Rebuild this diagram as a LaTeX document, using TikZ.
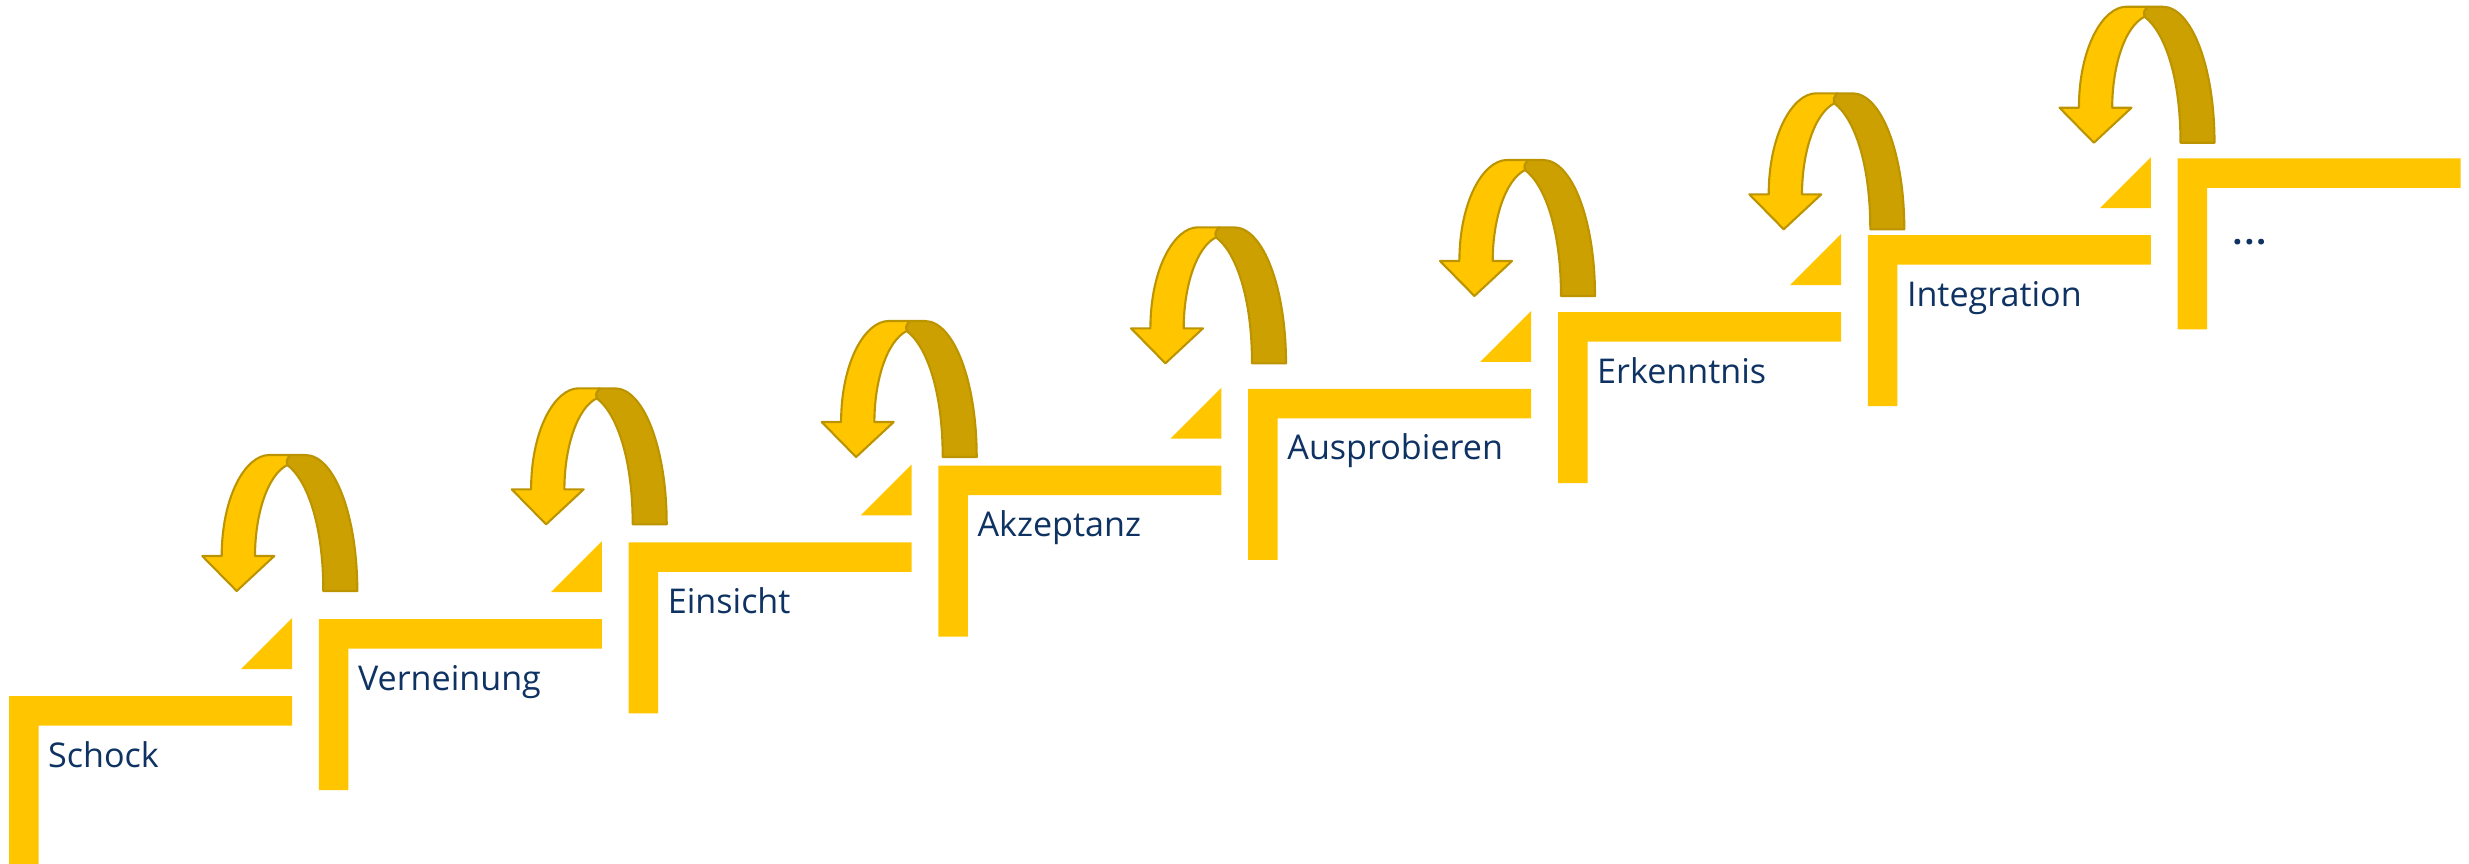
\documentclass[tikz,border=0pt]{standalone}
\usepackage{fontspec}
\setmainfont{Open Sans}
\definecolor{gold}{RGB}{255,198,0}
\definecolor{darkgold}{RGB}{204,160,0}
\definecolor{edgegold}{RGB}{188,148,0}
\definecolor{navy}{RGB}{14,50,98}
\tikzset{
  uturn/.pic={
    \path[darkband] (88,0) -- (103,0) .. controls (132,0) and (155,60) .. (155,136)
      -- (121,136) .. controls (121,70) and (105,25) .. (85,10)
      .. controls (84,5) .. (88,0) -- cycle;
    \path[lightband] (0,101) -- (19.4,101) .. controls (19.4,42) and (43,0) .. (67,0)
      -- (88,0) .. controls (84,5) .. (85,10)
      .. controls (65,20) and (52.7,60) .. (52.7,101) -- (72,101) -- (34.4,136) -- cycle;
  }
}
\begin{document}
\begin{tikzpicture}[x=0.01cm,y=-0.01cm,
  stepbar/.style={fill=gold, draw=none},
  wedge/.style={fill=gold, draw=none},
  steplabel/.style={text=navy, font=\fontsize{9.7}{11}\selectfont, anchor=base west, inner sep=0pt},
  lightband/.style={fill=gold, draw=edgegold, line width=0.6pt, line join=round},
  darkband/.style={fill=darkgold, draw=edgegold, line width=0.6pt, line join=round}]
\useasboundingbox (0,0) rectangle (2469,863);

% steps
\foreach \i in {0,...,7}{
  \pgfmathsetmacro\sx{9+309.8*\i}
  \pgfmathsetmacro\sy{696-76.8*\i}
  \fill[stepbar] (\sx,\sy) -- ++(283,0) -- ++(0,29.5) -- ++(-253.5,0) -- ++(0,141.5) -- ++(-29.5,0) -- cycle;
}
% wedges
\foreach \i in {0,...,6}{
  \pgfmathsetmacro\sx{9+309.8*\i}
  \pgfmathsetmacro\sy{696-76.8*\i}
  \fill[wedge] (\sx+283,\sy-78) -- (\sx+283,\sy-27) -- (\sx+232,\sy-27) -- cycle;
}
% labels
\foreach \lab [count=\i from 0] in {Schock,Verneinung,Einsicht,Akzeptanz,Ausprobieren,Erkenntnis,Integration}{
  \pgfmathsetmacro\sx{9+309.8*\i}
  \pgfmathsetmacro\sy{696-76.8*\i}
  \node[steplabel] (l\i) at (\sx+38.5,\sy+71) {\lab};
}
\node[steplabel, font=\fontsize{9.7}{11}\selectfont\bfseries] (l7) at (2232,244) {.\kern0.6pt.\kern0.6pt.};

% u-turn arrows
\pic at (202.3,455) {uturn};
\pic at (511.7,388.3) {uturn};
\pic at (821.7,321) {uturn};
\pic at (1131,227.3) {uturn};
\pic at (1440,160) {uturn};
\pic at (1749.3,93.3) {uturn};
\pic at (2059.5,6.7) {uturn};
\end{tikzpicture}
\end{document}
